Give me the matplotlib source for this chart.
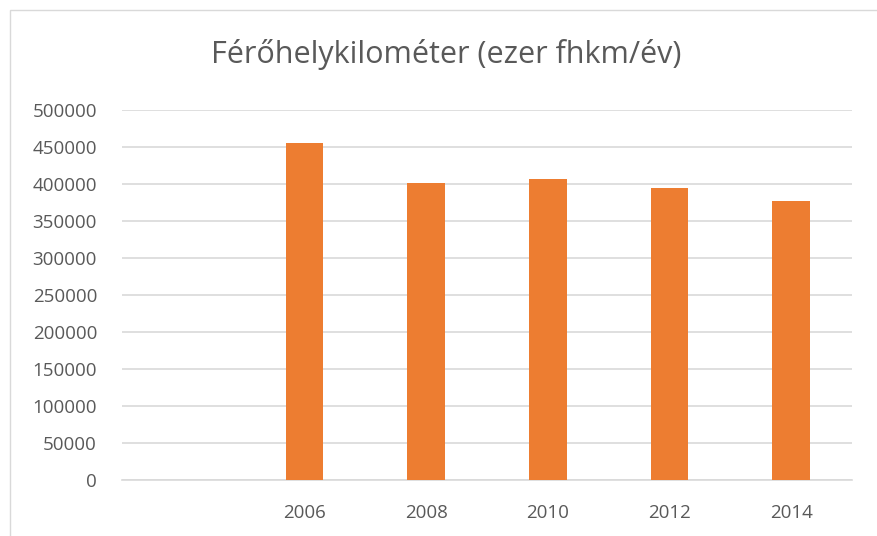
import matplotlib
matplotlib.use("Agg")
import matplotlib.pyplot as plt
from matplotlib.patches import Rectangle

categories = ["", "2006", "2008", "2010", "2012", "2014"]
values = [None, 455000, 401500, 406500, 394500, 377500]
yticks = [0, 50000, 100000, 150000, 200000, 250000, 300000, 350000, 400000, 450000, 500000]
title = "Férőhelykilométer (ezer fhkm/év)"

plt.rcParams['font.family'] = ['Open Sans', 'DejaVu Sans']

fig = plt.figure(figsize=(8.77, 5.36), dpi=100)
W, H = 877, 536
ax = fig.add_axes([122 / W, 1 - 480 / H, (852 - 122) / W, (480 - 110) / H])

x = list(range(len(categories)))
bx = [i for i, v in zip(x, values) if v is not None]
bv = [v for v in values if v is not None]
ax.bar(bx, bv, width=0.31, color="#ED7D31", zorder=3)

ax.set_xlim(-0.5, len(categories) - 0.5)
ax.set_ylim(0, 500000)
ax.set_yticks(yticks)
ax.set_yticklabels([str(t) for t in yticks])
ax.set_xticks(x)
ax.set_xticklabels(categories)
ax.grid(axis="y", color="#d9d9d9", linewidth=1.2, zorder=0)
for s in ["top", "right", "left"]:
    ax.spines[s].set_visible(False)
ax.spines["bottom"].set_color("#d9d9d9")
ax.spines["bottom"].set_linewidth(1.2)
ax.tick_params(axis="both", length=0, labelsize=13.5, colors="#595959")
ax.tick_params(axis="x", pad=17)
ax.tick_params(axis="y", pad=18)

fig.text(446 / W, 1 - 55 / H, title, ha="center", va="center", fontsize=22, color="#595959")
fig.patches.append(Rectangle((10 / W, -0.01), 1.0, 1 - 10 / H + 0.01, transform=fig.transFigure,
                             fill=False, edgecolor="#d9d9d9", linewidth=1.0))
fig.savefig("out.png", dpi=100)
